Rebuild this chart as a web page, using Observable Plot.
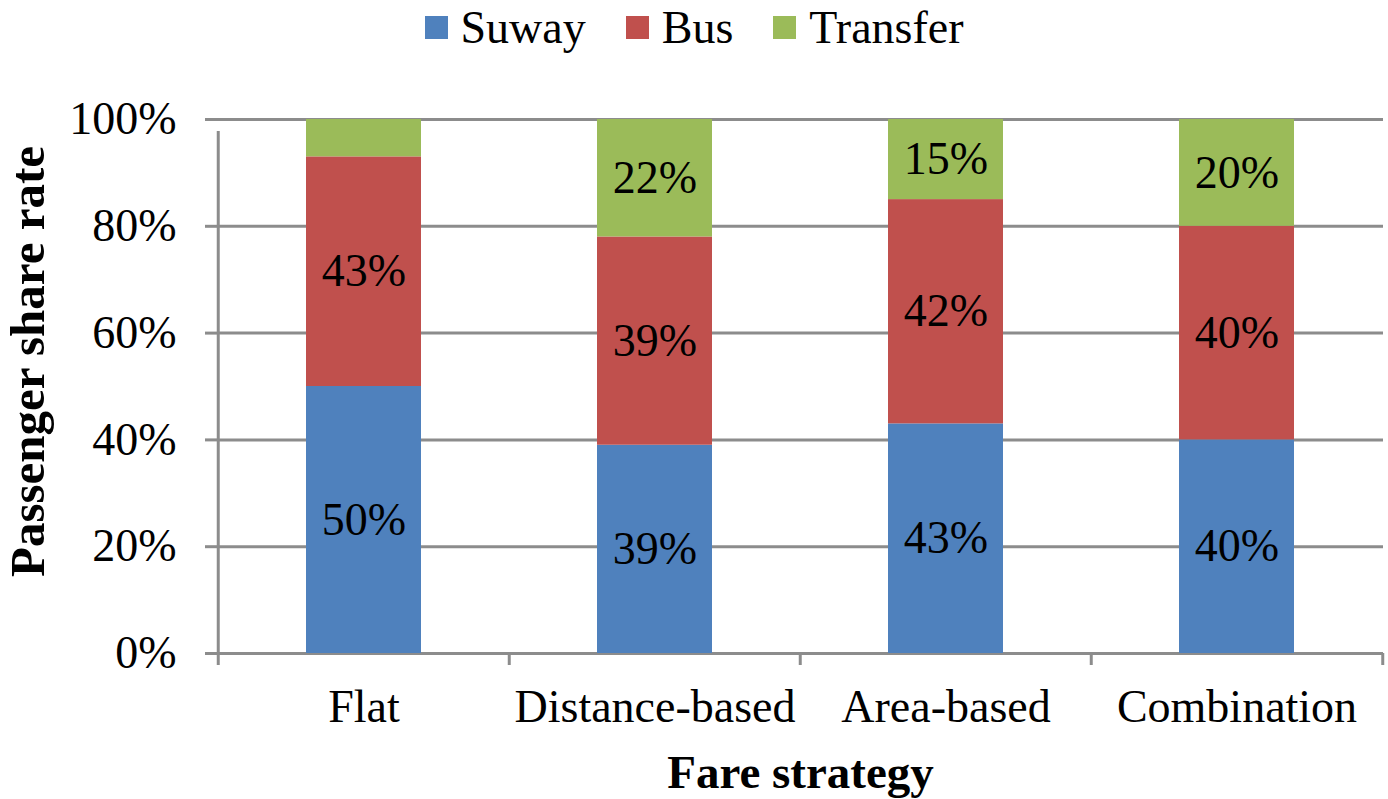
<!DOCTYPE html>
<html>
<head>
<meta charset="utf-8">
<script src="https://cdn.jsdelivr.net/npm/d3@7"></script>
<script src="https://cdn.jsdelivr.net/npm/@observablehq/plot@0.6"></script>
<style>
  body { margin: 0; background: #fff; font-family: "Liberation Serif", "Times New Roman", serif; }
  #legend { height: 50px; display: flex; justify-content: center; align-items: center; font-size: 46px; color: #000; padding-top: 4px; box-sizing: border-box; }
  #legend .item { display: flex; align-items: center; margin: 0 20px; }
  #legend .sw { width: 23px; height: 23px; margin-right: 13px; }
</style>
</head>
<body>
<div id="legend"></div>
<div id="chart"></div>
<script>
// Fare strategies and passenger share per travel mode
const strategies = ["Flat", "Distance-based", "Area-based", "Combination"];
const modes = ["Suway", "Bus", "Transfer"];
const modeColors = ["#4f81bd", "#c0504d", "#9bbb59"];
const suway = [0.50, 0.39, 0.43, 0.40];
const bus = [0.43, 0.39, 0.42, 0.40];
const transfer = [0.07, 0.22, 0.15, 0.20];
const yTicks = [0, 0.2, 0.4, 0.6, 0.8, 1];

const seriesByMode = {Suway: suway, Bus: bus, Transfer: transfer};
const rows = strategies.flatMap((strategy, i) =>
  modes.map(mode => ({strategy, mode, share: seriesByMode[mode][i]}))
);

const W = 1388, H = 749;
const margin = {top: 69, right: 5, bottom: 146, left: 217};
const step = (W - margin.left - margin.right) / strategies.length;
const grey = "#8c8c8c";
const pct = d3.format(".0%");

// Legend
const legend = document.getElementById("legend");
modes.forEach((m, i) => {
  const item = document.createElement("div");
  item.className = "item";
  const sw = document.createElement("span");
  sw.className = "sw";
  sw.style.background = modeColors[i];
  item.appendChild(sw);
  item.appendChild(document.createTextNode(m));
  legend.appendChild(item);
});

const chart = Plot.plot({
  width: W,
  height: H,
  marginTop: margin.top,
  marginRight: margin.right,
  marginBottom: margin.bottom,
  marginLeft: margin.left,
  style: {fontFamily: "'Liberation Serif', 'Times New Roman', serif", fontSize: "46px", color: "#000", background: "#fff"},
  x: {domain: strategies, paddingInner: 0.605, paddingOuter: 0.3025},
  y: {domain: [0, 1]},
  color: {domain: modes, range: modeColors},
  marks: [
    // horizontal gridlines
    Plot.ruleY(yTicks, {stroke: grey, strokeWidth: 3}),
    // category boundary ticks below the baseline
    Plot.ruleX(strategies, {x: d => d, dx: -step / 2, y1: 0, y2: 0, insetBottom: -12, stroke: grey, strokeWidth: 3}),
    Plot.ruleX(strategies.slice(-1), {x: d => d, dx: step / 2, y1: 0, y2: 0, insetBottom: -12, stroke: grey, strokeWidth: 3}),
    // vertical axis line
    Plot.ruleX(strategies.slice(0, 1), {x: d => d, dx: -step / 2, y1: 0, y2: 1, insetBottom: -12, stroke: grey, strokeWidth: 3}),
    Plot.barY(rows, {x: "strategy", y: "share", fill: "mode"}),
    Plot.text(rows, Plot.stackY({
      x: "strategy", y: "share", z: "mode",
      text: d => d.share >= 0.1 ? pct(d.share) : "",
      fill: "#000", fontSize: 46
    })),
    Plot.axisY({ticks: yTicks, tickFormat: pct, tickSize: 12, tickPadding: 29, stroke: grey, strokeWidth: 3, fill: "#000", fontSize: 46, label: null}),
    Plot.axisX({tickSize: 0, tickPadding: 36, fill: "#000", fontSize: 46, label: null}),
    Plot.text(["Passenger share rate"], {frameAnchor: "left", rotate: -90, dx: -189, dy: -25, fontWeight: "bold", fontSize: 49, fill: "#000", textAnchor: "middle", lineAnchor: "middle"}),
    Plot.text(["Fare strategy"], {frameAnchor: "bottom", dy: 134, fontWeight: "bold", fontSize: 47, fill: "#000", textAnchor: "middle", lineAnchor: "bottom"})
  ]
});
document.getElementById("chart").appendChild(chart);
</script>
</body>
</html>
